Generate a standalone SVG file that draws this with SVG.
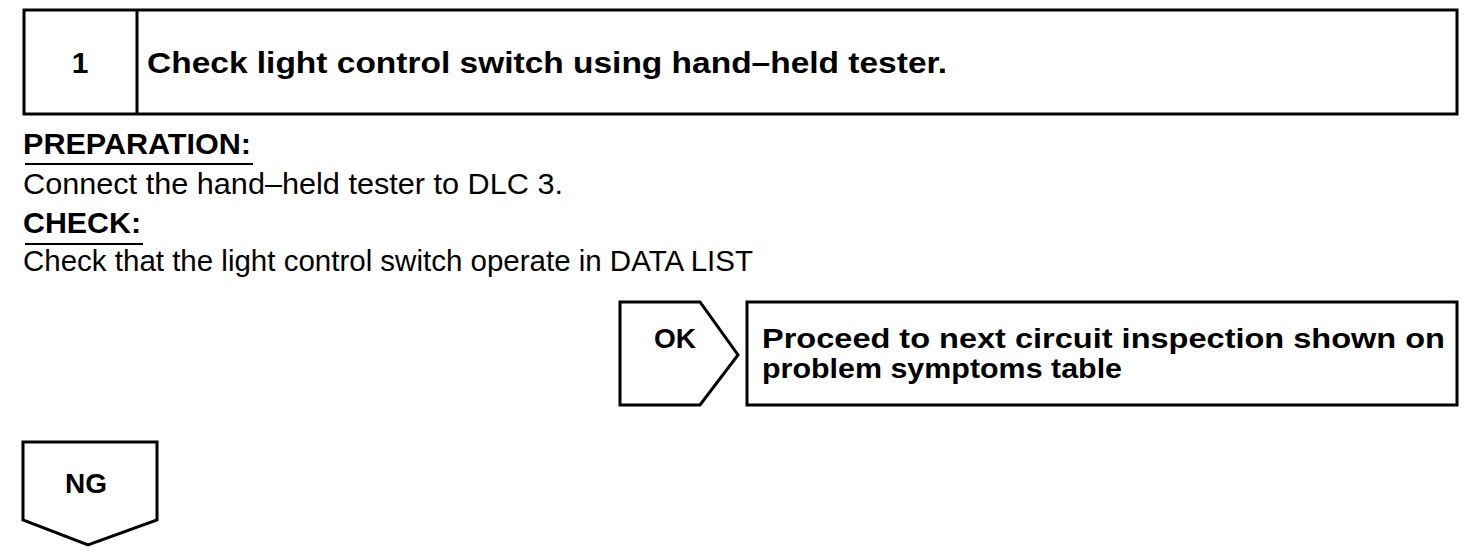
<svg xmlns="http://www.w3.org/2000/svg" width="1472" height="558" viewBox="0 0 1472 558">
<style>
.ln{fill:none;stroke:#000;stroke-width:3;stroke-linejoin:miter}
.b{font-family:"Liberation Sans",Arial,sans-serif;font-weight:bold;fill:#000}
.r{font-family:"Liberation Sans",Arial,sans-serif;fill:#000}
</style>
<rect width="1472" height="558" fill="#fff"/>
<g id="step1">
<rect class="ln" x="24" y="10" width="1433" height="104"/>
<line class="ln" x1="137" y1="10" x2="137" y2="114"/>
<text class="b" x="80" y="73" font-size="30" text-anchor="middle">1</text>
<text class="b" x="147" y="73" font-size="30" textLength="800" lengthAdjust="spacingAndGlyphs">Check light control switch using hand–held tester.</text>
</g>
<g id="instructions">
<text class="b" x="23" y="154" font-size="30" textLength="228" lengthAdjust="spacingAndGlyphs">PREPARATION:</text>
<line x1="25" y1="164" x2="253" y2="164" stroke="#000" stroke-width="2"/>
<text class="r" x="23" y="194" font-size="30" textLength="540" lengthAdjust="spacingAndGlyphs">Connect the hand–held tester to DLC 3.</text>
<text class="b" x="23" y="233" font-size="30" textLength="118" lengthAdjust="spacingAndGlyphs">CHECK:</text>
<line x1="25" y1="244" x2="143" y2="244" stroke="#000" stroke-width="2"/>
<text class="r" x="23" y="271" font-size="30" textLength="730" lengthAdjust="spacingAndGlyphs">Check that the light control switch operate in DATA LIST</text>
</g>
<g id="ok">
<path class="ln" d="M620,302 L700,302 L738,355 L700,405 L620,405 Z"/>
<text class="b" x="675" y="348" font-size="28" text-anchor="middle">OK</text>
</g>
<g id="proceed">
<rect class="ln" x="747" y="302" width="710" height="103"/>
<text class="b" x="762" y="348" font-size="28" textLength="683" lengthAdjust="spacingAndGlyphs">Proceed to next circuit inspection shown on</text>
<text class="b" x="762" y="378" font-size="28" textLength="360" lengthAdjust="spacingAndGlyphs">problem symptoms table</text>
</g>
<g id="ng">
<path class="ln" d="M23,442 L157,442 L157,520 L88,545 L23,520 Z"/>
<text class="b" x="86" y="493" font-size="28" text-anchor="middle">NG</text>
</g>
<g id="connectors"></g>
</svg>
